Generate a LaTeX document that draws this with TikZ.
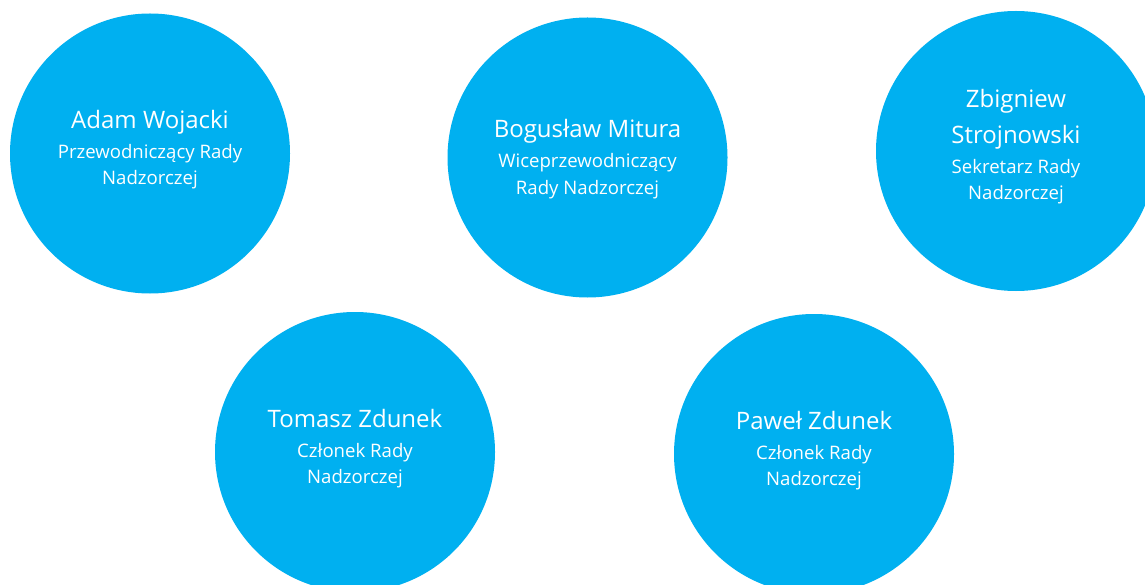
\documentclass[tikz,border=0pt]{standalone}
\usepackage{fontspec}
\setmainfont{Open Sans}
\definecolor{disc}{HTML}{00B0F0}
\tikzset{
  member/.style={circle, fill=disc, draw=none, minimum size=280pt, inner sep=0pt},
  namet/.style={anchor=base, text=white, inner sep=0pt, font=\fontsize{24}{29}\selectfont},
  rolet/.style={anchor=base, text=white, inner sep=0pt, font=\fontsize{18.6}{22}\selectfont}
}
\begin{document}
\begin{tikzpicture}[x=1pt,y=-1pt]
\useasboundingbox (0,0) rectangle (1145,585);
\clip (0,0) rectangle (1145,585);
\fill[white] (0,0) rectangle (1145,585);
% circles
\node[member] (c1) at (150,153.5) {};
\node[member] (c2) at (587.5,157.5) {};
\node[member] (c3) at (1016,151) {};
\node[member] (c4) at (355,452) {};
\node[member] (c5) at (814,454) {};
% texts
\node[namet] (n1) at (150,129) {Adam Wojacki};
\node[rolet] (r1a) at (150,159) {Przewodniczący Rady};
\node[rolet] (r1b) at (150,185) {Nadzorczej};
\node[namet] (n2) at (587.5,138) {Bogusław Mitura};
\node[rolet] (r2a) at (587.5,168) {Wiceprzewodniczący};
\node[rolet] (r2b) at (587.5,195) {Rady Nadzorczej};
\node[namet] (n3a) at (1016,108) {Zbigniew};
\node[namet] (n3b) at (1016,144) {Strojnowski};
\node[rolet] (r3a) at (1016,174) {Sekretarz Rady};
\node[rolet] (r3b) at (1016,200) {Nadzorczej};
\node[namet] (n4) at (355,427) {Tomasz Zdunek};
\node[rolet] (r4a) at (355,457) {Członek Rady};
\node[rolet] (r4b) at (355,483) {Nadzorczej};
\node[namet] (n5) at (814,429) {Paweł Zdunek};
\node[rolet] (r5a) at (814,459) {Członek Rady};
\node[rolet] (r5b) at (814,485) {Nadzorczej};
\end{tikzpicture}
\end{document}
